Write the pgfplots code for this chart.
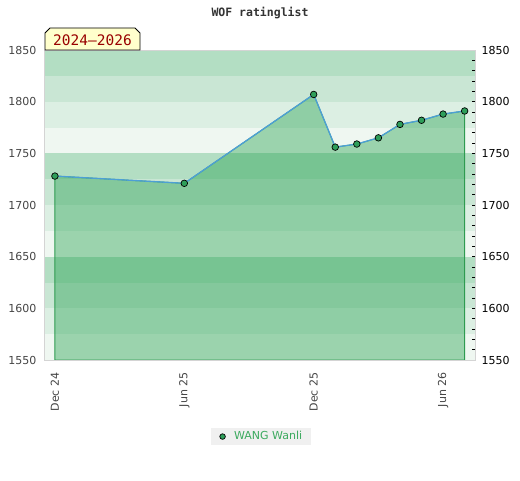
\documentclass[border=0pt]{standalone}
\usepackage{pgfplots}
\pgfplotsset{compat=1.18}
\usepackage{pgfplotstable}
\usepackage{fontspec}
\setmainfont{DejaVu Sans}
\newfontfamily\monofont{DejaVu Sans Mono}
\definecolor{bandA}{HTML}{EFF7F1}
\definecolor{bandB}{HTML}{DCEFE3}
\definecolor{bandC}{HTML}{C9E6D4}
\definecolor{bandD}{HTML}{B3DEC3}
\definecolor{areafill}{RGB}{29,157,73}
\definecolor{edgegreen}{RGB}{46,155,80}
\definecolor{markgreen}{RGB}{46,158,90}
\definecolor{linblue}{RGB}{77,159,214}
\definecolor{labelgray}{HTML}{444444}
\definecolor{titlegray}{HTML}{333333}
\definecolor{framegray}{HTML}{D4D4D4}
\definecolor{legendgreen}{RGB}{60,170,95}
\definecolor{legendbg}{HTML}{F0F0F0}
\definecolor{boxyellow}{HTML}{FFFFCC}
\definecolor{darkred}{HTML}{990000}

\pgfplotstableread{
x y
0 1728
6 1721
12 1807
13 1756
14 1759
15 1765
16 1778
17 1782
18 1788
19 1791
}\ratings

\begin{document}
\begin{tikzpicture}[x=1pt,y=1pt]
\path[use as bounding box] (0,0) rectangle (520,480);
\begin{axis}[
  at={(45pt,120pt)}, anchor=south west,
  scale only axis, width=430pt, height=310pt,
  xmin=-0.46, xmax=19.48, ymin=1550, ymax=1850,
  axis on top,
  axis line style={draw=framegray, line width=1pt},
  xtick={0,6,12,18}, xticklabels={Dec 24,Jun 25,Dec 25,Jun 26},
  ytick={1550,1600,...,1850},
  major tick length=0pt,
  xtick pos=bottom, ytick pos=left,
  xticklabel style={rotate=90, anchor=east, font=\fontsize{11}{13}\selectfont, text=labelgray, xshift=-9pt},
  yticklabel style={font=\fontsize{11}{13}\selectfont, text=labelgray, xshift=-5pt},
  /pgf/number format/assume math mode=true,
  /pgf/number format/1000 sep={},
  legend style={at={(0.502,-0.247)}, anchor=center, draw=none, fill=legendbg,
    font=\fontsize{11}{13}\selectfont, text=legendgreen, inner xsep=7pt, inner ysep=2pt},
  legend image code/.code={\path[draw=none,fill=none] (-5pt,0pt) -- (9.5pt,0pt); \draw[#1, mark size=2.8pt] plot coordinates {(0pt,0pt)};},
]
% background bands
\fill[bandA] (axis cs:-0.46,1550) rectangle (axis cs:19.48,1575);
\fill[bandB] (axis cs:-0.46,1575) rectangle (axis cs:19.48,1600);
\fill[bandC] (axis cs:-0.46,1600) rectangle (axis cs:19.48,1625);
\fill[bandD] (axis cs:-0.46,1625) rectangle (axis cs:19.48,1650);
\fill[bandA] (axis cs:-0.46,1650) rectangle (axis cs:19.48,1675);
\fill[bandB] (axis cs:-0.46,1675) rectangle (axis cs:19.48,1700);
\fill[bandC] (axis cs:-0.46,1700) rectangle (axis cs:19.48,1725);
\fill[bandD] (axis cs:-0.46,1725) rectangle (axis cs:19.48,1750);
\fill[bandA] (axis cs:-0.46,1750) rectangle (axis cs:19.48,1775);
\fill[bandB] (axis cs:-0.46,1775) rectangle (axis cs:19.48,1800);
\fill[bandC] (axis cs:-0.46,1800) rectangle (axis cs:19.48,1825);
\fill[bandD] (axis cs:-0.46,1825) rectangle (axis cs:19.48,1850);
\addplot[draw=edgegreen, line width=0.9pt, fill=areafill, fill opacity=0.4, forget plot] table[x=x,y=y] {\ratings} \closedcycle;
\addplot[draw=linblue, line width=1.3pt, forget plot] table[x=x,y=y] {\ratings};
\addplot[only marks, mark=*, mark size=3.3pt, mark options={fill=markgreen, draw=black, line width=0.7pt}]
  table[x=x,y=y] {\ratings};
\addlegendentry{WANG Wanli}
\end{axis}
\begin{axis}[
  at={(45pt,120pt)}, anchor=south west,
  scale only axis, width=430pt, height=310pt,
  xmin=-0.46, xmax=19.48, ymin=1550, ymax=1850,
  axis x line=none, axis y line*=right,
  axis line style={draw=none},
  ytick={1550,1600,...,1850},
  minor ytick={1560,1570,...,1840},
  major tick length=0pt, minor tick length=3pt, tick align=inside,
  minor tick style={black, line width=0.8pt},
  yticklabel style={font=\fontsize{11}{13}\selectfont, text=black, xshift=3pt},
  /pgf/number format/assume math mode=true,
  /pgf/number format/1000 sep={},
]
\end{axis}
\node[font=\monofont\bfseries\fontsize{11.5}{13}\selectfont, text=titlegray] at (260,467) {WOF ratinglist};
\draw[fill=boxyellow, line width=0.9pt] (45,430) -- (45,447) -- (50,452) -- (135,452) -- (140,447) -- (140,430) -- cycle;
\node[font=\monofont\fontsize{14.5}{16}\selectfont, text=darkred] at (92.5,440) {2024–2026};
\end{tikzpicture}
\end{document}
